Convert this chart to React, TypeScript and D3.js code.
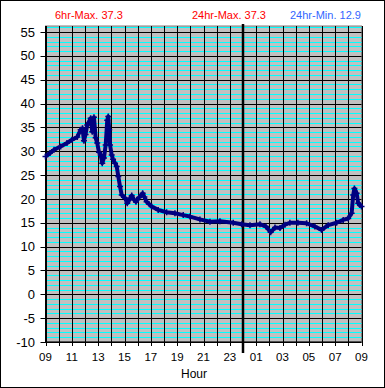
import * as d3 from 'd3';

// hours since 09:00 and temperature readings
const hours = [
  0, 0.34, 0.65, 1.15, 1.63, 2.01, 2.41, 2.67, 2.81, 2.92, 3.04, 3.17, 3.43, 3.55, 3.68,
  3.81, 3.93, 4.06, 4.19, 4.31, 4.44, 4.57, 4.69, 4.77, 4.84, 4.9, 5.03, 5.13, 5.28,
  5.41, 5.53, 5.66, 5.79, 6.04, 6.21, 6.38, 6.55, 6.73, 6.87, 7.1, 7.38, 7.51, 7.68,
  8.06, 8.56, 9.2, 9.83, 10.46, 10.97, 11.73, 12.49, 13.25, 14.26, 14.9, 15.53, 16.29,
  16.74, 17.1, 17.43, 17.81, 18.19, 18.56, 19.17, 19.83, 20.46, 20.97, 21.47, 22.11,
  22.61, 22.99, 23.25, 23.37, 23.46, 23.63, 23.75, 23.88, 24,
];
const temps = [
  28.9, 29.6, 30.3, 31.0, 31.7, 32.4, 33.0, 34.5, 34.8, 32.2, 33.5, 35.5, 36.9, 34.1, 37.1,
  32.8, 31.7, 29.8, 29.2, 27.5, 28.6, 31.3, 36.5, 37.3, 34.5, 31.3, 29.2, 28.3, 27.5,
  26.8, 24.7, 22.6, 20.8, 20.2, 19.1, 19.9, 20.7, 19.8, 19.4, 20.3, 21.2, 20.4, 19.4,
  18.4, 17.7, 17.2, 17.0, 16.6, 16.3, 15.7, 15.2, 15.3, 15.0, 14.7, 14.5, 14.7,
  14.2, 13.0, 14.0, 13.9, 14.6, 15.0, 15.0, 14.9, 14.2, 13.5, 14.5, 15.0,
  15.6, 15.9, 17.0, 20.8, 22.2, 21.2, 19.1, 18.7, 18.4,
];
const hourLabels = ['09', '11', '13', '15', '17', '19', '21', '23', '01', '03', '05', '07', '09'];
const yTicks = [-10, -5, 0, 5, 10, 15, 20, 25, 30, 35, 40, 45, 50, 55];
const headers = [
  { text: '6hr-Max. 37.3', color: '#ff0000' },
  { text: '24hr-Max. 37.3', color: '#ff0000' },
  { text: '24hr-Min. 12.9', color: '#3366ff' },
];

const WIDTH = 385;
const HEIGHT = 388;
const PLOT = { left: 45.5, right: 361.5, top: 26, bottom: 342 };
const FONT = '"Liberation Sans", Arial, sans-serif';

const snap = (v: number) => Math.round(v) + 0.5;

export default function App() {
  const xScale = d3.scaleLinear().domain([0, 24]).range([PLOT.left, PLOT.right]);
  const yScale = d3.scaleLinear().domain([-10, 56.25]).range([PLOT.bottom, PLOT.top]);

  const points = hours.map((h, i) => ({ h, v: temps[i] }));
  const linePath = d3
    .line<{ h: number; v: number }>()
    .x((d) => xScale(d.h))
    .y((d) => yScale(d.v))(points);

  const minor = d3.range(-9, 57).filter((v) => v % 5 !== 0);
  const hourLines = d3.range(0, 25);
  const headerX = [55, 192, 290];

  return (
    <div style={{ position: 'absolute', left: 0, top: 0 }}>
      <svg width={WIDTH} height={HEIGHT} style={{ display: 'block', background: '#fff' }}>
        <rect x={0.5} y={0.5} width={WIDTH - 1} height={HEIGHT - 1} fill="#fff" stroke="#000" />

        {headers.map((hd, i) => (
          <text key={hd.text} x={headerX[i]} y={19} fontSize={11} fontFamily={FONT} fill={hd.color}>
            {hd.text}
          </text>
        ))}

        {/* plot background */}
        <rect
          x={PLOT.left}
          y={PLOT.top}
          width={PLOT.right - PLOT.left}
          height={PLOT.bottom - PLOT.top}
          fill="#c0c0c0"
          stroke="#808080"
        />

        {/* minor gridlines */}
        {minor.map((v) => (
          <line key={'m' + v} x1={PLOT.left} x2={PLOT.right} y1={snap(yScale(v))} y2={snap(yScale(v))} stroke="#00ffff" strokeWidth={1} />
        ))}
        {/* major horizontal lines */}
        {yTicks.map((v) => (
          <line key={'y' + v} x1={PLOT.left - 5} x2={PLOT.right} y1={snap(yScale(v))} y2={snap(yScale(v))} stroke="#000" />
        ))}
        {/* hour lines */}
        {hourLines.map((h) => (
          <line key={'h' + h} x1={snap(xScale(h))} x2={snap(xScale(h))} y1={PLOT.top} y2={PLOT.bottom + 4} stroke="#000" />
        ))}
        <line x1={PLOT.left} x2={PLOT.left} y1={PLOT.top} y2={PLOT.bottom} stroke="#000" />
        <line x1={PLOT.left} x2={PLOT.right} y1={PLOT.bottom} y2={PLOT.bottom} stroke="#000" />
        {/* midnight */}
        <line x1={xScale(15)} x2={xScale(15)} y1={24} y2={353} stroke="#000" strokeWidth={2.5} />

        {/* data */}
        <path d={linePath || ''} fill="none" stroke="#000080" strokeWidth={4} strokeLinejoin="round" />
        {points.map((d, i) => {
          const cx = xScale(d.h);
          const cy = yScale(d.v);
          return (
            <path key={'p' + i} d={`M${cx - 3},${cy}H${cx + 3}M${cx},${cy - 3}V${cy + 3}`} stroke="#000080" strokeWidth={1.5} />
          );
        })}

        {/* axis labels */}
        {yTicks.map((v) => (
          <text key={'yl' + v} x={35} y={yScale(v)} dy="0.36em" textAnchor="end" fontSize={13} fontFamily={FONT} fill="#000">
            {v}
          </text>
        ))}
        {hourLabels.map((l, i) => (
          <text key={'xl' + i} x={xScale(i * 2)} y={361} textAnchor="middle" fontSize={11.5} fontFamily={FONT} fill="#000">
            {l}
          </text>
        ))}
        <text x={194} y={378} textAnchor="middle" fontSize={12} fontFamily={FONT} fill="#000">
          Hour
        </text>
      </svg>
    </div>
  );
}
